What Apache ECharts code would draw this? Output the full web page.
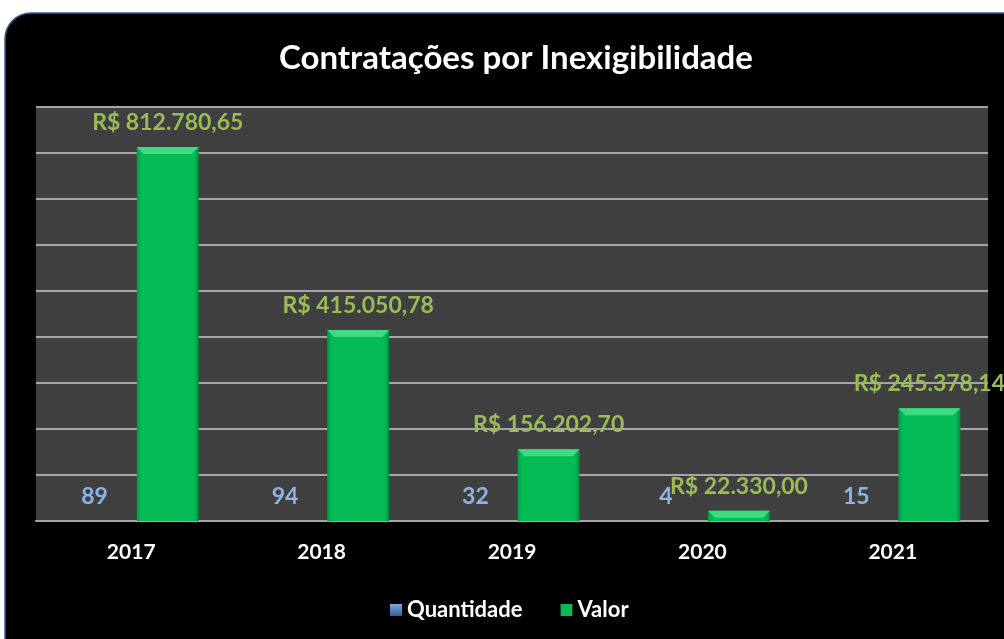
<!DOCTYPE html>
<html>
<head>
<meta charset="utf-8">
<script src="https://cdn.jsdelivr.net/npm/echarts@6/dist/echarts.min.js"></script>
<style>
html,body{margin:0;padding:0;background:#fff;}
#c{width:1004px;height:639px;}
</style>
</head>
<body>
<div id="c"></div>
<script>
const categories = ['2017', '2018', '2019', '2020', '2021'];
const quantidade = [89, 94, 32, 4, 15];
const valor = [812780.65, 415050.78, 156202.70, 22330.00, 245378.14];
const yTicks = [0, 100000, 200000, 300000, 400000, 500000, 600000, 700000, 800000, 900000];

function brl(v) {
  const parts = v.toFixed(2).split('.');
  const int = parts[0].replace(/\B(?=(\d{3})+(?!\d))/g, '.');
  return 'R$ ' + int + ',' + parts[1];
}

const BAR_W = 62;
const GAP = 0.18;
const greenOffset = (BAR_W * (2 + GAP)) / 2 - BAR_W / 2;

const chart = echarts.init(document.getElementById('c'), null, {renderer: 'canvas'});
const FONT = 'Lato';
chart.setOption({
  backgroundColor: '#ffffff',
  animation: false,
  graphic: [{
    type: 'rect', z: -10, silent: true,
    shape: {x: 5, y: 13, width: 1030, height: 660, r: 26},
    style: {fill: '#000000', stroke: '#3d5f8f', lineWidth: 1.5}
  }],
  title: {
    text: 'Contratações por Inexigibilidade',
    left: 274, top: 37,
    textStyle: {color: '#ffffff', fontFamily: FONT, fontWeight: 'bold', fontSize: 33}
  },
  legend: {
    top: 594, left: 385,
    itemWidth: 12, itemHeight: 12, itemGap: 38,
    icon: 'rect',
    textStyle: {color: '#ffffff', fontFamily: FONT, fontWeight: 'bold', fontSize: 22},
    data: ['Quantidade', 'Valor']
  },
  grid: {
    left: 36, right: 16, top: 107, bottom: 118,
    show: true, backgroundColor: '#404040', borderWidth: 0
  },
  xAxis: {
    type: 'category', data: categories,
    axisLine: {show: true, lineStyle: {color: '#a6a6a6', width: 2}},
    axisTick: {show: false},
    axisLabel: {color: '#ffffff', fontFamily: FONT, fontWeight: 'bold', fontSize: 21, margin: 21}
  },
  yAxis: {
    type: 'value', min: yTicks[0], max: yTicks[yTicks.length - 1], interval: yTicks[1] - yTicks[0],
    axisLabel: {show: false}, axisLine: {show: false}, axisTick: {show: false},
    splitLine: {show: true, lineStyle: {color: '#a6a6a6', width: 2}}
  },
  series: [{
    name: 'Quantidade', type: 'bar', data: quantidade,
    barWidth: BAR_W, barGap: (GAP * 100) + '%',
    itemStyle: {color: new echarts.graphic.LinearGradient(0, 0, 0, 1, [
      {offset: 0, color: '#7aa8e0'}, {offset: 1, color: '#2f5f9f'}])},
    label: {
      show: true, position: 'top', distance: 13,
      color: '#8eb4e3', fontFamily: FONT, fontWeight: 'bold', fontSize: 23
    }
  }, {
    name: 'Valor', type: 'bar', data: valor,
    barWidth: BAR_W,
    itemStyle: {
      color: new echarts.graphic.LinearGradient(0, 0, 1, 0, [
        {offset: 0, color: '#019a45'}, {offset: 0.07, color: '#05bb56'},
        {offset: 0.93, color: '#05bb56'}, {offset: 1, color: '#018a3d'}])
    },
    label: {
      show: true, position: 'top', distance: 13,
      formatter: p => brl(p.value),
      color: '#9bbb59', fontFamily: FONT, fontWeight: 'bold', fontSize: 23
    }
  }, {
    name: 'ValorBevel', type: 'pictorialBar', data: valor,
    symbol: 'path://M0,0 L62,0 L55,7 L7,7 Z',
    symbolSize: [BAR_W, 7],
    symbolPosition: 'end',
    symbolOffset: [greenOffset, 0],
    z: 5, silent: true,
    itemStyle: {color: '#3ddc84'},
    label: {show: false}
  }]
});
</script>
</body>
</html>
